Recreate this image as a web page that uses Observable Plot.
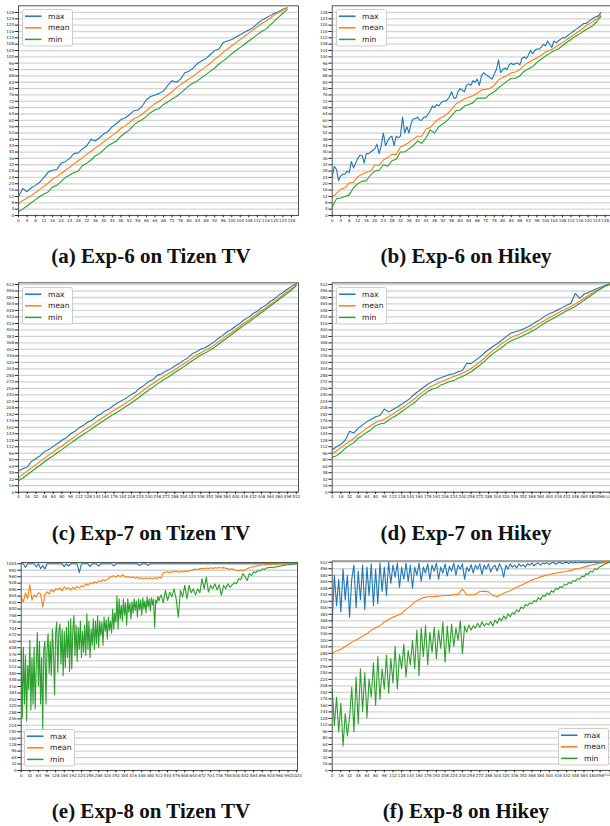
<!DOCTYPE html>
<html><head><meta charset="utf-8">
<script src="https://cdn.jsdelivr.net/npm/d3@7"></script>
<script src="https://cdn.jsdelivr.net/npm/@observablehq/plot@0.6"></script>
<style>
html,body{margin:0;padding:0;background:#fff;}
#root{position:relative;width:610px;height:826px;overflow:hidden;background:#fff;}
.cap{position:absolute;font-family:"Liberation Serif",serif;font-weight:bold;font-size:21px;line-height:20px;text-align:center;color:#111;white-space:nowrap;}
</style></head><body><div id="root"></div>
<script>
// ---------- data ----------
const seriesNames = ["max", "mean", "min"];
const seriesColors = ["#1f77b4", "#ff7f0e", "#2ca02c"];
const captions = ["(a) Exp-6 on Tizen TV", "(b) Exp-6 on Hikey", "(c) Exp-7 on Tizen TV", "(d) Exp-7 on Hikey", "(e) Exp-8 on Tizen TV", "(f) Exp-8 on Hikey"];

const ticks128 = [0,4,8,12,16,20,24,28,32,36,40,44,48,52,56,60,64,68,72,76,80,84,88,92,96,100,104,108,112,116,120,124,128];
const ticks512 = [0,16,32,48,64,80,96,112,128,144,160,176,192,208,224,240,256,272,288,304,320,336,352,368,384,400,416,432,448,464,480,496,512];
const ticks1024 = [0,32,64,96,128,160,192,224,256,288,320,352,384,416,448,480,512,544,576,608,640,672,704,736,768,800,832,864,896,928,960,992,1024];

// (a) Exp-6 Tizen TV, x step 2
const aStep = 2;
const aMax = [12,17,15,17.5,19,21,24,27.5, 28.5,29,33,34,36,39,39.5,42, 44,48,47,49,51.5,53,56,58, 60.5,61.5,63.5,66,66.5,69,73,75, 76,77,78.5,82,85,84,86,90, 91,93,96,97.5,99,101.5,104,105, 109,110,111,112.5,114,115.5,117,118.5, 121,123,124.5,126,127.5,128.5,130,131];
const aMean = [7.5,9.5,11,12.5,14.5,16.5,18.5,20.5, 23,24.5,26.5,28.5,30.5,32.5,34.5,36.5, 38.5,40.5,42.5,44.5,46.5,48.5,50.5,52.5, 55,56.5,58.5,61,62,64,66,68.5, 70.5,72,74,76,78,80.5,82.5,84.5, 86,88,90,92,94,96,98.5,100.5, 103,105,107,109,111,113,115,117, 119,121,122.5,124.5,126.5,128,129.5,131];
const aMin = [2.5,4,6,8,10,12,13.5,15, 18,19,21.5,24,25.5,27,28,31.5, 33,35,37.5,39,41.5,44,45.5,47, 50,52,54,57,59,60.5,62.5,65, 66.5,67.5,70,71.5,73.5,75,77,79.5, 82,83.5,85,87,89,91,93,95.5, 97.5,99.5,102,104,106,108,110,112, 114,116,117.5,120,122.5,125,127.5,130];

// (b) Exp-6 Hikey
const bMaxStep = 1, bStep = 2;
const bMax = [24,31,29,22,25,26,26,28,27,34, 30,33,36,38,38,33,39,39,40,41, 42,45,39,44,52,44,47,49,50,44, 50,49,50,62,52,56,52,58,61,61, 62,60,60,62,62,64,66,69,68,70, 69,71,72,72,73,75,78,74,74,78, 80,79,78,82,83,82,85,84,86,82, 88,90,89,88,87,86,89,92,98,90, 92,93,92,95,96,95,96,96,95,99, 100,99,101,104,102,104,105,105,106,108, 107,110,108,106,110,109,110,111,112,112, 113,114,115,116,117,118,119,120,121,121, 122,123,124,125,125.5,126,128];
const bMean = [11.5,14,16.5,17.5,20.5,21,24.5,26, 27.3,28,32,31.5,35,36.5,38.5,38.5, 43,44.5,46,48,50,50,54.5,55.5, 58.5,61,62.3,64,67,70.2,72,73.5, 74.5,75.5,77,79.2,79.5,80.2,82,85.5, 87,88.3,90,90.5,92,94.5,96.5,98, 99.3,101,103,104.2,105.5,107.3,109,111, 112.7,114.4,116.5,118.5,120.5,122,124,126.5];
const bMin = [5.5,10.5,11,12,13,17.5,20,21.5, 22,25.5,28,28.5,32,31,34.5,35.5, 40,40,42,44,47,45.5,49,54, 52,56,57.8,60,63,66,66.5,69, 70,71,74,74,74,76.5,78,80.5, 82.5,84.7,86.5,86.5,88,91,92.5,93.8, 96.5,98.5,100.5,102.2,103.8,105,107,109.2, 111,112.9,114.5,116.3,118,119.5,122,125.5];

// (c) Exp-7 Tizen TV, x step 8
const cStep = 8;
const cMax = [52,58,62,76,83,90,100,105, 113,120,128,134,144,150,159,165, 173,178,187,193,201,206,215,221, 227,233,241,247,257,264,273,278, 288,292,299,304,311,317,325,331, 341,346,353,356,363,370,379,386, 395,401,409,416,425,431,440,446, 455,461,470,477,486,493,501,508, 514];
const cMean = [36,44,52,60,68,76,84,92, 99,107,114,122,130,137,145,152, 159,166,174,181,188,195,202,208, 215,222,229,237,245,253,261,268, 276,282,289,295,302,309,316,323, 331,338,344,349,355,362,370,378, 386,393,401,409,417,424,432,440, 448,455,463,471,479,487,495,503, 511];
const cMin = [28,35,43,51,59,67,75,83, 90,98,105,113,121,128,136,143, 150,157,165,172,179,186,193,199, 206,213,220,228,236,244,252,259, 267,274,281,287,295,302,309,316, 324,331,338,343,349,356,364,372, 380,388,396,404,412,419,427,435, 443,451,459,467,475,483,491,499, 509];

// (d) Exp-7 Hikey, x step 8
const dStep = 8;
const dMax = [104,112,118,128,150,146,158,166, 174,180,186,189,205,198,204,210, 217,224,232,242,250,258,266,272, 278,282,286,290,292,297,300,318, 317,325,333,343,351,359,366,374, 383,391,395,398,402,407,413,420, 426,434,440,444,450,455,461,466, 490,478,488,492,497,502,506,510, 514];
const dMean = [94,102,110,118,125,133,142,150, 158,165,172,176,180,186,193,200, 207,214,222,231,240,248,256,262, 267,272,276,281,285,289,293,299, 305,313,321,330,340,349,357,366, 373,380,385,389,394,399,405,411, 417,424,430,436,442,447,453,458, 464,470,478,485,492,498,504,509, 512];
const dMin = [86,90,98,108,116,122,133,140, 148,154,164,168,170,178,185,190, 199,206,214,221,232,240,248,254, 257,264,268,273,275,281,285,291, 297,305,313,322,332,341,349,356, 365,372,377,381,386,391,397,403, 410,417,423,429,435,441,447,452, 458,465,473,480,488,495,502,508, 512];

// (e) Exp-8 Tizen TV
const eStep = 8;
const eMax = [1024,1024,1006,1024,1024,1024,1024,1008,1024,1000,1015,998,1024,1024,1024,1024,
 1024,1024,1024,1024,1010,1024,1012,1024,1024,1024,1024,980,1024,1024,1024,1024,
 1010,1024,1024,1024,1012,1024,1024,1024,1024,1024,1024,1014,1024,1024,1024,1024,
 1024,1024,1024,1024,1024,1024,1024,1015,1024,1024,1024,1016,1024,1024,1024,1024,
 1024,1024,1024,1024,1024,1024,1024,1024,1024,1024,1024,1024,1024,1024,1024,1024,
 1024,1024,1024,1024,1024,1024,1024,1024,1024,1024,1024,1024,1024,1024,1024,1024,
 1024,1024,1024,1024,1024,1024,1024,1024,1024,1024,1024,1024,1024,1024,1024,1024,
 1024,1024,1024,1024,1024,1024,1024,1024,1024,1024,1024,1024,1024,1024,1024,1024,
 1024];
const eMean = [860,835,880,850,920,845,870,860,880,875,810,870,885,875,895,885,
 900,895,905,890,910,900,905,895,908,900,912,905,915,910,925,918,
 930,925,935,928,940,935,945,940,948,955,962,965,958,968,960,970,
 962,958,960,955,958,952,957,950,955,948,955,950,953,948,955,950,
 958,952,980,982,985,980,986,983,987,982,986,984,988,985,990,992,
 995,998,996,1000,1002,998,1003,1000,1004,1001,1005,1002,1006,1003,1005,1002,
 1000,996,1000,995,992,990,993,990,995,1000,1004,1008,1010,1013,1015,1017,
 1018,1019,1020,1021,1021,1022,1022,1022,1023,1023,1023,1023,1024,1024,1024,1024,
 1024];
// min: x 0..520 every 4, then x 528..1024 every 8
const eMinAStep = 4, eMinBStart = 528, eMinBStep = 8;
const eMinA = [600,260,610,330,570,245,520,400,645,300,560,330,610,305,520,685,
 420,640,330,560,206,600,640,330,600,677,480,640,470,700,586,375,
 680,735,487,690,727,528,700,470,690,510,710,560,740,490,751,504,
 700,768,570,720,540,710,600,740,560,690,586,720,570,776,600,740,
 560,700,620,751,600,740,628,768,610,740,669,735,620,760,690,745,
 650,760,694,740,680,800,700,780,735,867,700,850,751,818,740,850,
 770,830,720,850,784,830,751,834,780,850,793,840,760,850,795,845,
 770,855,800,840,780,860,810,850,790,855,820,850,710,845,830,862,
 840,859,870];
const eMinB = [830,892,842,884,860,900,850,760,892,860,917,850,917,880,
 900,870,900,880,950,900,958,884,917,900,925,895,920,867,917,900,
 925,908,920,930,925,950,945,975,960,941,975,965,985,980,991,988,
 999,996,1003,1005,1007,1005,1008,1010,1012,1014,1016,1018,1019,1021,1022,1023,
 1024];

// (f) Exp-8 Hikey
const fMaxStep = 4, fMeanStep = 8, fMinStep = 4;
const fMax = [365,480,405,470,390,495,420,480,377,470,505,400,490,420,505,395,
 500,430,508,405,495,410,510,440,500,430,512,460,505,475,510,450,
 500,470,510,465,505,448,500,480,510,465,500,485,508,470,505,490,
 510,470,500,485,508,478,502,490,510,480,505,495,508,470,500,490,
 506,485,505,495,508,482,505,495,508,488,500,505,490,508,498,475,
 505,495,508,500,505,498,508,502,506,500,508,505,510,503,508,510,
 505,510,508,511,506,510,512,507,510,512,508,511,512,509,512,510,
 512,510,512,511,512,510,512,511,512,512,511,512,512,512,512,512,
 512];
const fMean = [288,294,298,305,312,318,324,330, 336,345,351,356,365,372,377,381, 386,396,404,414,420,425,427,427, 428,429,430,430,432,433,446,432, 432,433,440,441,439,430,427,433, 438,442,448,453,458,463,468,472, 476,479,482,484,486,488,490,492, 495,497,500,503,506,508,510,511, 512];
const fMin = [200,110,180,95,165,60,140,85,130,205,95,230,115,250,145,240,
 130,225,180,265,160,280,175,250,200,283,190,275,215,305,200,285,
 250,310,230,295,260,320,250,345,233,350,280,356,260,340,290,352,
 275,345,300,365,266,355,290,360,305,350,320,368,287,355,340,358,
 345,356,350,362,352,365,355,362,358,366,355,370,362,375,368,380,
 372,385,378,388,385,395,390,402,398,408,405,412,410,418,415,425,
 420,430,428,436,432,442,438,448,445,452,450,458,456,462,460,467,
 465,472,470,478,476,484,482,490,488,496,494,500,502,506,508,510,
 512];

// ---------- drawing ----------
const root = document.getElementById("root");
const rows = (vals, step, start = 0) => vals.map((v, i) => ({x: start + i * step, y: v}));

function legend(left, top) {
  const ns = "http://www.w3.org/2000/svg";
  const svg = document.createElementNS(ns, "svg");
  svg.setAttribute("width", 52); svg.setAttribute("height", 38);
  svg.style.position = "absolute"; svg.style.left = left + "px"; svg.style.top = top + "px";
  svg.innerHTML = `<rect x="0.5" y="0.5" width="50" height="36.5" rx="2" fill="#fff" fill-opacity="0.85" stroke="#cccccc" stroke-width="1"/>` +
    seriesNames.map((n, i) => {
      const y = 7.2 + i * 11.6;
      return `<line x1="3" x2="19.5" y1="${y}" y2="${y}" stroke="${seriesColors[i]}" stroke-width="1.5"/>` +
        `<text x="26" y="${y}" dy="0.35em" font-family="DejaVu Sans" font-size="7.6" fill="#222">${n}</text>`;
    }).join("");
  root.appendChild(svg);
}

function panel(p) {
  const mR = 4, mB = 14;
  const xAxisOpts = {label: null, tickSize: 2.3, tickPadding: 1, fontSize: 4.0, tickFormat: d => String(d)};
  const xAxes = p.rightEdge
    ? [Plot.axisX(p.xTicks.slice(0, -2), xAxisOpts),
       Plot.axisX(p.xTicks.slice(-2, -1), {...xAxisOpts, dx: -1.2}),
       Plot.axisX(p.xTicks.slice(-1), {...xAxisOpts, fontSize: 3.2, textAnchor: "end", dx: 0})]
    : [Plot.axisX(p.xTicks, xAxisOpts)];
  const chart = Plot.plot({
    width: p.mL + p.plotW + mR, height: p.mT + p.plotH + mB,
    marginLeft: p.mL, marginRight: mR, marginTop: p.mT, marginBottom: mB,
    style: {fontFamily: "DejaVu Sans", fontSize: "4px", background: "transparent", color: "#222"},
    x: {domain: [0, p.xMax]},
    y: {domain: [0, p.yMax]},
    marks: [
      Plot.gridY(p.yTicks, {stroke: "#d4d4d4", strokeOpacity: 1, strokeWidth: 1.3}),
      ...p.series.map((s, i) => Plot.line(s, {x: "x", y: "y", stroke: seriesColors[i], strokeWidth: 1.1})),
      Plot.frame({stroke: "#555", strokeWidth: 1}),
      Plot.axisY(p.yTicks, {label: null, tickSize: 3.3, tickPadding: 1.2, fontSize: 4.1, tickFormat: d => String(d)}),
      ...xAxes
    ]
  });
  chart.style.position = "absolute";
  chart.style.left = p.left + "px";
  chart.style.top = p.top + "px";
  chart.style.overflow = "visible";
  root.appendChild(chart);
}

panel({left: 0, top: 0, mL: 18, plotW: 280, mT: 5.3, plotH: 209.7, xMax: 131.3, yMax: 132.2, xTicks: ticks128, yTicks: ticks128,
  series: [rows(aMax, aStep), rows(aMean, aStep), rows(aMin, aStep)]});
panel({left: 305, top: 0, mL: 26.7, plotW: 280, mT: 5.3, plotH: 209.7, xMax: 131.3, yMax: 132.2, xTicks: ticks128, yTicks: ticks128,
  series: [rows(bMax, bMaxStep), rows(bMean, bStep), rows(bMin, bStep)]});
panel({left: 0, top: 270, mL: 18, plotW: 280, mT: 12.3, plotH: 209.4, xMax: 516, yMax: 516.2, xTicks: ticks512, yTicks: ticks512,
  series: [rows(cMax, cStep), rows(cMean, cStep), rows(cMin, cStep)]});
panel({left: 305, top: 270, mL: 26.7, plotW: 280, mT: 12.3, plotH: 209.4, xMax: 516, yMax: 516.2, xTicks: ticks512, yTicks: ticks512, rightEdge: true,
  series: [rows(dMax, dStep), rows(dMean, dStep), rows(dMin, dStep)]});
panel({left: 0, top: 550, mL: 20.7, plotW: 276.3, mT: 12, plotH: 208, xMax: 1027, yMax: 1030.4, xTicks: ticks1024, yTicks: ticks1024,
  series: [rows(eMax, eStep), rows(eMean, eStep), rows(eMinA, eMinAStep).concat(rows(eMinB, eMinBStep, eMinBStart))]});
panel({left: 305, top: 550, mL: 26.7, plotW: 280, mT: 10.5, plotH: 209.5, xMax: 516, yMax: 515, xTicks: ticks512, yTicks: ticks512, rightEdge: true,
  series: [rows(fMax, fMaxStep), rows(fMean, fMeanStep), rows(fMin, fMinStep)]});

legend(22, 9);
legend(335.7, 9);
legend(22, 286.7);
legend(335.7, 286.7);
legend(24, 729);
legend(558, 728);

const capTops = [246, 246, 523, 523, 801, 801];
captions.forEach((t, i) => {
  const d = document.createElement("div");
  d.className = "cap";
  d.style.left = (i % 2 === 0 ? 0 : 316) + "px";
  d.style.width = (i % 2 === 0 ? 302 : 300) + "px";
  d.style.top = capTops[i] + "px";
  d.textContent = t;
  root.appendChild(d);
});
</script></body></html>
